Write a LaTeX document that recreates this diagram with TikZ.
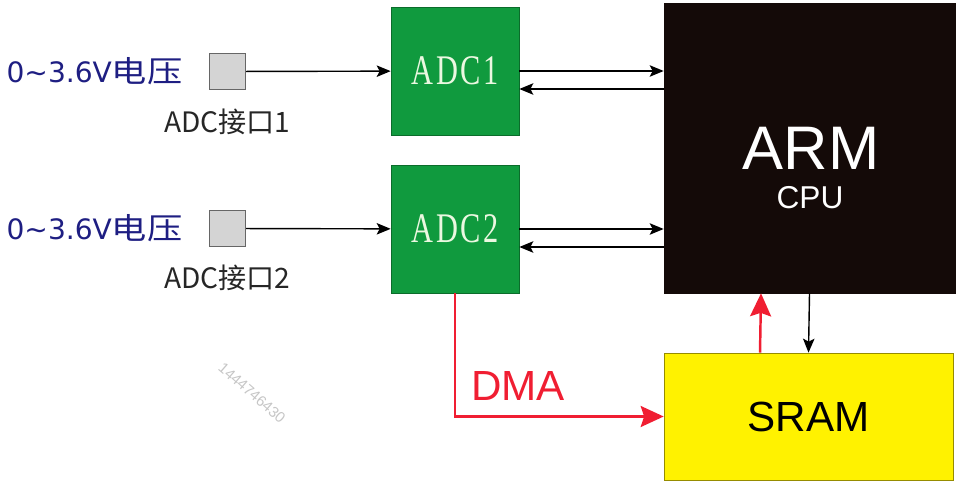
\documentclass[tikz,border=0pt]{standalone}
\usepackage{fontspec}
\usetikzlibrary{arrows.meta,positioning,calc}
\newfontfamily\cjk{Noto Sans CJK SC}
\newfontfamily\cjkwide{Noto Sans CJK SC}[FakeStretch=1.18]
\newfontfamily\dejavu{DejaVu Sans}
\newfontfamily\arial{Liberation Sans}
\newfontfamily\adcfont{Liberation Serif}[FakeStretch=0.72,LetterSpace=6]
\definecolor{adcgreen}{RGB}{16,154,62}
\definecolor{armblack}{RGB}{20,10,8}
\definecolor{dmared}{RGB}{240,30,50}
\definecolor{voltblue}{RGB}{30,30,130}
\definecolor{portgray}{RGB}{212,212,212}
\newcommand{\volt}{{\dejavu 0\textasciitilde3.6V}{\cjkwide\fontsize{17}{19}\selectfont 电压}}
\tikzset{
  port/.style={draw=gray!80!black,fill=portgray,line width=0.8pt,minimum size=0.72cm,inner sep=0},
  adcbox/.style={draw=adcgreen!70!black,fill=adcgreen,minimum size=2.56cm,inner sep=0,
    text={rgb,255:red,235;green,248;blue,225},font=\adcfont\fontsize{24}{26}\selectfont},
  sig/.style={-{Stealth[length=2.8mm,width=2.3mm,inset=0.6mm]},line width=0.8pt,black},
  redsig/.style={-{Stealth[length=4.6mm,width=4.2mm,inset=0.7mm]},line width=1.4pt,dmared},
}
\begin{document}
\begin{tikzpicture}[x=0.02cm,y=-0.02cm,inner sep=0]
\useasboundingbox (0,0) rectangle (963,489);
% input ports
\node[port] (p1) at (227.5,71.5) {};
\node[port] (p2) at (227.5,228.5) {};
\node[left=0.52cm of p1,text=voltblue,font=\fontsize{16}{18}\selectfont] (v1) {\volt};
\node[left=0.52cm of p2,text=voltblue,font=\fontsize{16}{18}\selectfont] (v2) {\volt};
\node[text=black!85,font=\cjk\fontsize{16}{18}\selectfont] (l1) at (227.5,122) {ADC接口1};
\node[text=black!85,font=\cjk\fontsize{16}{18}\selectfont] (l2) at (227.5,278) {ADC接口2};
% converters
\node[adcbox] (adc1) at (455,71) {ADC1};
\node[adcbox] (adc2) at (455,229) {ADC2};
% cpu and memory
\node[draw=armblack,fill=armblack,minimum width=5.82cm,minimum height=5.8cm] (arm) at (809.5,148) {};
\node[text=white,font=\arial\fontsize{35}{37}\selectfont] (armtxt) at (811,148) {ARM};
\node[text=white,font=\arial\fontsize{18}{20}\selectfont] (cputxt) at (810,198) {CPU};
\node[draw={rgb,255:red,150;green,140;blue,0},fill=yellow,minimum width=5.78cm,minimum height=2.54cm,
  font=\arial\fontsize{24}{26}\selectfont] (sram) at (808.5,416.5) {SRAM};
% connections
\coordinate (r1) at ($(adc1.east)+(0,18)$);
\coordinate (r2) at ($(adc2.east)+(0,18)$);
\draw[sig] (p1) -- (adc1);
\draw[sig] (p2) -- (adc2);
\draw[sig] (adc1.east) -- (adc1.east -| arm.west);
\draw[sig] (r1 -| arm.west) -- (r1);
\draw[sig] (adc2.east) -- (adc2.east -| arm.west);
\draw[sig] (r2 -| arm.west) -- (r2);
\draw[sig] (arm.south) -- (sram.north);
\draw[redsig] ([xshift=-0.97cm]sram.north) -- ([xshift=-0.97cm]arm.south);
\draw[redsig] (adc2.south) |- (sram.west);
\node[text=dmared,font=\arial\fontsize{24}{26}\selectfont] (dma) at (518,386) {DMA};
% watermark
\node[rotate=-41,text=gray!45,font=\arial\fontsize{8.5}{9}\selectfont] (wm) at (252,393) {1444746430};
\end{tikzpicture}
\end{document}
